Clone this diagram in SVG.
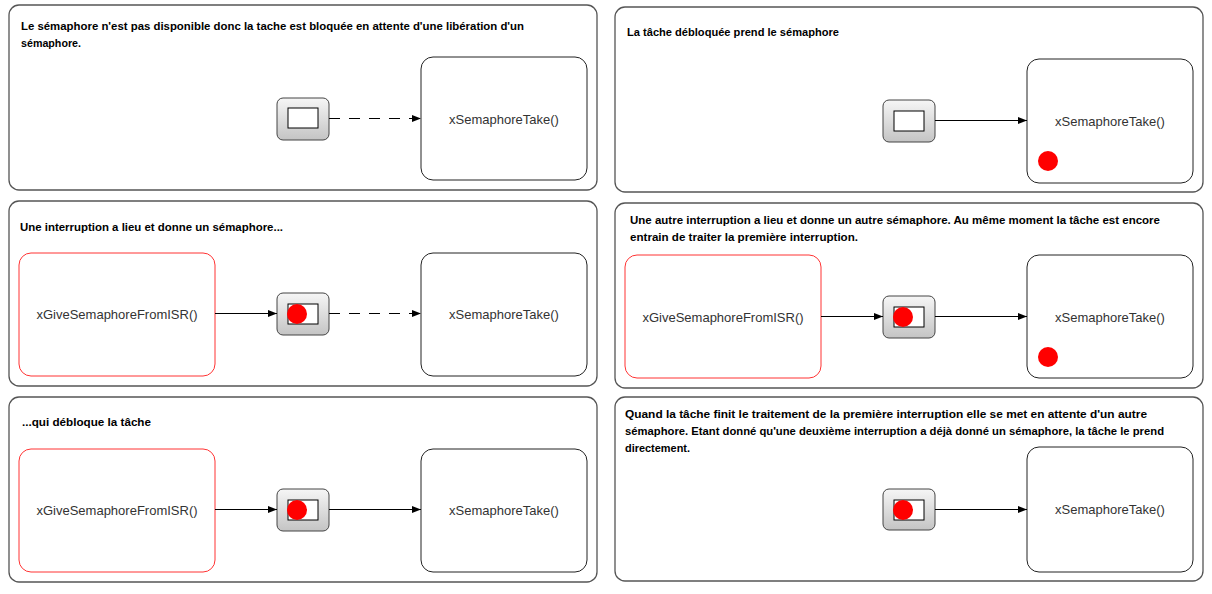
<svg xmlns="http://www.w3.org/2000/svg" width="1212" height="594" viewBox="0 0 1212 594">
<style>
.panel{fill:#fff;stroke:#555;stroke-width:1.3}
.take{fill:#fff;stroke:#222;stroke-width:1}
.isr{fill:#fff;stroke:#f33;stroke-width:1}
.sem{fill:url(#g);stroke:#444;stroke-width:1}
.slot{fill:#fff;stroke:#000;stroke-width:1}
.tok{fill:#f00}
.cap{font-family:"Liberation Sans",Arial,sans-serif;font-weight:bold;font-size:11px;fill:#000}
.lbl{font-family:"Liberation Sans",Arial,sans-serif;font-size:13px;fill:#333;text-anchor:middle}
.c{stroke:#000;stroke-width:1;fill:none;marker-end:url(#a)}
.d{stroke-dasharray:11 9}
</style>
<defs>
<linearGradient id="g" x1="0" y1="0" x2="0" y2="1">
<stop offset="0" stop-color="#f6f6f6"/>
<stop offset="1" stop-color="#c4c4c4"/>
</linearGradient>
<marker id="a" markerWidth="9" markerHeight="8" refX="9" refY="4" orient="auto" markerUnits="userSpaceOnUse">
<path d="M0,0.5 L9,4 L0,7.5 Z" fill="#000"/>
</marker>
</defs>

<g id="panel1">
<rect class="panel" x="9" y="5" width="588" height="185" rx="10"/>
<text class="cap" x="21" y="30" textLength="503" lengthAdjust="spacingAndGlyphs">Le sémaphore n'est pas disponible donc la tache est bloquée en attente d'une libération d'un</text>
<text class="cap" x="21" y="47" textLength="60" lengthAdjust="spacingAndGlyphs">sémaphore.</text>
</g>
<g id="p1-sem"><rect class="sem" x="277" y="98" width="52" height="42" rx="6"/><rect class="slot" x="288" y="108" width="30" height="20"/></g>
<g id="p1-take"><rect class="take" x="421" y="57" width="166" height="123" rx="12"/><text class="lbl" x="504" y="124">xSemaphoreTake()</text></g>

<g id="panel2">
<rect class="panel" x="9" y="201" width="588" height="185" rx="10"/>
<text class="cap" x="20" y="231" textLength="263" lengthAdjust="spacingAndGlyphs">Une interruption a lieu et donne un sémaphore...</text>
</g>
<g id="p2-isr"><rect class="isr" x="19" y="253" width="196" height="123" rx="12"/><text class="lbl" x="117" y="319">xGiveSemaphoreFromISR()</text></g>
<g id="p2-sem"><rect class="sem" x="277" y="293" width="52" height="42" rx="6"/><rect class="slot" x="288" y="304" width="30" height="20"/><circle class="tok" cx="297" cy="314" r="10"/></g>
<g id="p2-take"><rect class="take" x="421" y="253" width="166" height="123" rx="12"/><text class="lbl" x="504" y="319">xSemaphoreTake()</text></g>

<g id="panel3">
<rect class="panel" x="9" y="397" width="588" height="185" rx="10"/>
<text class="cap" x="22" y="426" textLength="129" lengthAdjust="spacingAndGlyphs">...qui débloque la tâche</text>
</g>
<g id="p3-isr"><rect class="isr" x="19" y="449" width="196" height="123" rx="12"/><text class="lbl" x="117" y="515">xGiveSemaphoreFromISR()</text></g>
<g id="p3-sem"><rect class="sem" x="277" y="489" width="52" height="42" rx="6"/><rect class="slot" x="288" y="500" width="30" height="20"/><circle class="tok" cx="297" cy="510" r="10"/></g>
<g id="p3-take"><rect class="take" x="421" y="449" width="166" height="123" rx="12"/><text class="lbl" x="504" y="515">xSemaphoreTake()</text></g>

<g id="panel4">
<rect class="panel" x="615" y="7" width="588" height="185" rx="10"/>
<text class="cap" x="627" y="36" textLength="212" lengthAdjust="spacingAndGlyphs">La tâche débloquée prend le sémaphore</text>
</g>
<g id="p4-sem"><rect class="sem" x="883" y="100" width="52" height="42" rx="6"/><rect class="slot" x="894" y="111" width="30" height="20"/></g>
<g id="p4-take"><rect class="take" x="1027" y="59" width="166" height="124" rx="12"/><text class="lbl" x="1110" y="126">xSemaphoreTake()</text><circle class="tok" cx="1048" cy="161" r="10"/></g>

<g id="panel5">
<rect class="panel" x="615" y="203" width="588" height="185" rx="10"/>
<text class="cap" x="630" y="224" textLength="530" lengthAdjust="spacingAndGlyphs">Une autre interruption a lieu et donne un autre sémaphore. Au même moment la tâche est encore</text>
<text class="cap" x="630" y="241" textLength="228" lengthAdjust="spacingAndGlyphs">entrain de traiter la première interruption.</text>
</g>
<g id="p5-isr"><rect class="isr" x="625" y="255" width="196" height="123" rx="12"/><text class="lbl" x="723" y="322">xGiveSemaphoreFromISR()</text></g>
<g id="p5-sem"><rect class="sem" x="883" y="296" width="52" height="42" rx="6"/><rect class="slot" x="894" y="307" width="30" height="20"/><circle class="tok" cx="903" cy="317" r="10"/></g>
<g id="p5-take"><rect class="take" x="1027" y="255" width="166" height="123" rx="12"/><text class="lbl" x="1110" y="322">xSemaphoreTake()</text><circle class="tok" cx="1048" cy="357" r="10"/></g>

<g id="panel6">
<rect class="panel" x="615" y="397" width="588" height="184" rx="10"/>
<text class="cap" x="625" y="418" textLength="522" lengthAdjust="spacingAndGlyphs">Quand la tâche finit le traitement de la première interruption elle se met en attente d'un autre</text>
<text class="cap" x="625" y="435" textLength="539" lengthAdjust="spacingAndGlyphs">sémaphore. Etant donné qu'une deuxième interruption a déjà donné un sémaphore, la tâche le prend</text>
<text class="cap" x="625" y="452" textLength="65" lengthAdjust="spacingAndGlyphs">directement.</text>
</g>
<g id="p6-sem"><rect class="sem" x="883" y="489" width="52" height="41" rx="6"/><rect class="slot" x="894" y="500" width="30" height="20"/><circle class="tok" cx="903" cy="510" r="10"/></g>
<g id="p6-take"><rect class="take" x="1027" y="447" width="166" height="125" rx="12"/><text class="lbl" x="1110" y="514">xSemaphoreTake()</text></g>

<g id="connectors">
<path class="c d" d="M329,118.5 H421"/>
<path class="c" d="M215,313.5 H277"/>
<path class="c d" d="M329,313.5 H421"/>
<path class="c" d="M215,509.5 H277"/>
<path class="c" d="M329,509.5 H421"/>
<path class="c" d="M935,120.5 H1027"/>
<path class="c" d="M821,316.5 H883"/>
<path class="c" d="M935,316.5 H1027"/>
<path class="c" d="M935,509.5 H1027"/>
</g>
</svg>
